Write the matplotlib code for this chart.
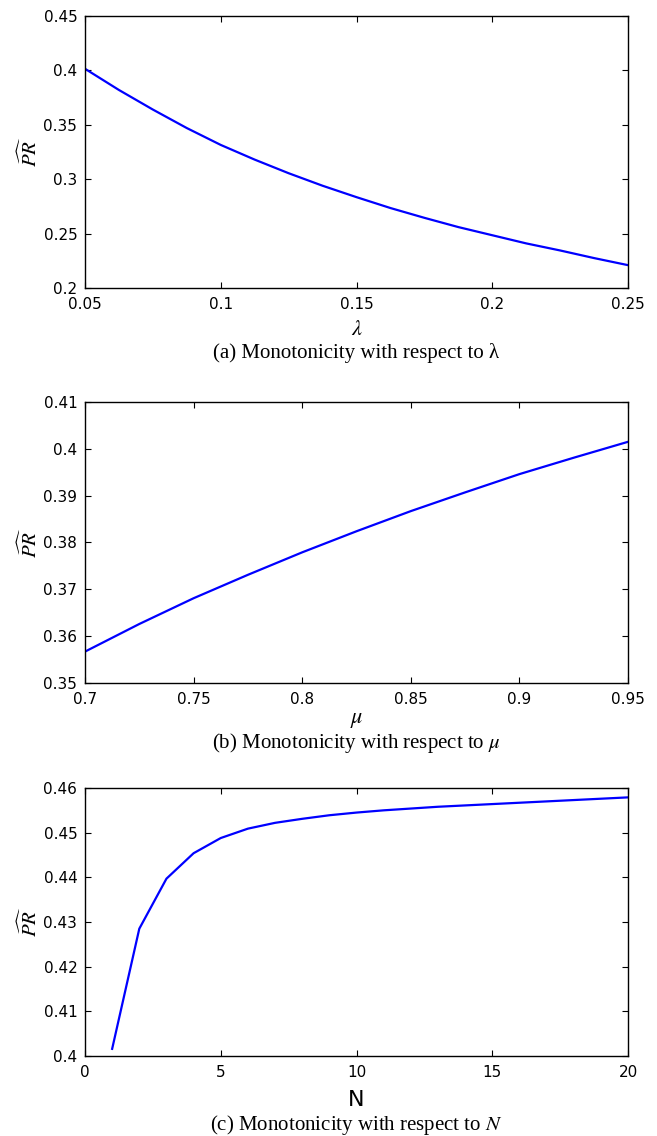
import matplotlib
matplotlib.use("Agg")
import matplotlib.pyplot as plt

plt.rcParams['mathtext.fontset'] = 'stix'
plt.rcParams['font.family'] = ['DejaVu Sans']

# Panel (a): PR vs lambda
lam = [0.05, 0.0625, 0.075, 0.0875, 0.1, 0.1125, 0.125, 0.1375, 0.15,
       0.1625, 0.175, 0.1875, 0.2, 0.2125, 0.225, 0.2375, 0.25]
pr_lam = [0.4015, 0.382, 0.364, 0.347, 0.3315, 0.318, 0.3055, 0.294, 0.2835,
          0.2735, 0.2645, 0.256, 0.2485, 0.241, 0.2345, 0.2275, 0.221]

# Panel (b): PR vs mu
mu = [0.7, 0.725, 0.75, 0.775, 0.8, 0.825, 0.85, 0.875, 0.9, 0.925, 0.95]
pr_mu = [0.3567, 0.3626, 0.3681, 0.3731, 0.3779, 0.3824, 0.3867, 0.3907,
         0.3946, 0.3981, 0.4015]

# Panel (c): PR vs N
n_vals = list(range(1, 21))
pr_n = [0.4016, 0.4285, 0.4397, 0.4454, 0.4488, 0.4509, 0.4522, 0.4531,
        0.4539, 0.4545, 0.4550, 0.4554, 0.4558, 0.4561, 0.4564, 0.4567,
        0.4570, 0.4573, 0.4576, 0.4579]

xticks_a = [0.05, 0.1, 0.15, 0.2, 0.25]
xticklabels_a = ['0.05', '0.1', '0.15', '0.2', '0.25']
yticks_a = [0.2, 0.25, 0.3, 0.35, 0.4, 0.45]
yticklabels_a = ['0.2', '0.25', '0.3', '0.35', '0.4', '0.45']

xticks_b = [0.7, 0.75, 0.8, 0.85, 0.9, 0.95]
xticklabels_b = ['0.7', '0.75', '0.8', '0.85', '0.9', '0.95']
yticks_b = [0.35, 0.36, 0.37, 0.38, 0.39, 0.4, 0.41]
yticklabels_b = ['0.35', '0.36', '0.37', '0.38', '0.39', '0.4', '0.41']

xticks_c = [0, 5, 10, 15, 20]
xticklabels_c = ['0', '5', '10', '15', '20']
yticks_c = [0.4, 0.41, 0.42, 0.43, 0.44, 0.45, 0.46]
yticklabels_c = ['0.4', '0.41', '0.42', '0.43', '0.44', '0.45', '0.46']

captions = ['(a) Monotonicity with respect to λ',
            '(b) Monotonicity with respect to $\\mu$',
            '(c) Monotonicity with respect to $N$']

W, H = 657, 1136
fig = plt.figure(figsize=(W / 100, H / 100), dpi=100)

def px_axes(left, right, top, bottom):
    return fig.add_axes([left / W, 1 - bottom / H, (right - left) / W, (bottom - top) / H])

axes_px = [(85, 628, 16, 288), (85, 628, 402, 683), (85, 628, 788, 1056)]
axs = [px_axes(*p) for p in axes_px]

data = [
    (lam, pr_lam, (0.05, 0.25), (0.2, 0.45), xticks_a, xticklabels_a, yticks_a, yticklabels_a),
    (mu, pr_mu, (0.7, 0.95), (0.35, 0.41), xticks_b, xticklabels_b, yticks_b, yticklabels_b),
    (n_vals, pr_n, (0, 20), (0.4, 0.46), xticks_c, xticklabels_c, yticks_c, yticklabels_c),
]

xlabels = ['$\\lambda$', '$\\mu$', 'N']
xlabel_y_px = [329, 720, 1100]
caption_y_px = [353, 743, 1125]

for i, (ax, d) in enumerate(zip(axs, data)):
    x, y, xl, yl, xt, xtl, yt, ytl = d
    ax.plot(x, y, color='#0000ff', lw=1.6)
    ax.set_xlim(*xl)
    ax.set_ylim(*yl)
    ax.set_xticks(xt)
    ax.set_xticklabels(xtl)
    ax.set_yticks(yt)
    ax.set_yticklabels(ytl)
    ax.tick_params(direction='in', length=4, width=0.8, top=True, right=True,
                   labelsize=11, colors='black')
    ax.tick_params(axis='x', pad=6.5)
    ax.tick_params(axis='y', pad=5.5)
    for s in ax.spines.values():
        s.set_linewidth(1.0)
        s.set_color('black')
    left, right, top, bottom = axes_px[i]
    hpx = bottom - top
    wpx = right - left
    # y label
    ax.set_ylabel('$\\widehat{PR}$', fontsize=15)
    ax.yaxis.label.set_va('center')
    ax.yaxis.set_label_coords((29 - left) / wpx, 0.5)
    # x label
    if xlabels[i] == 'N':
        ax.set_xlabel('N', fontsize=16, family='DejaVu Sans')
    else:
        ax.set_xlabel(xlabels[i], fontsize=16)
    ax.xaxis.label.set_va('center')
    ax.xaxis.set_label_coords(0.5, -(xlabel_y_px[i] - bottom) / hpx)
    fig.text((left + right) / 2 / W, 1 - caption_y_px[i] / H, captions[i],
             ha='center', va='center', fontsize=15, family='Liberation Serif')

fig.savefig('out.png', dpi=100)
